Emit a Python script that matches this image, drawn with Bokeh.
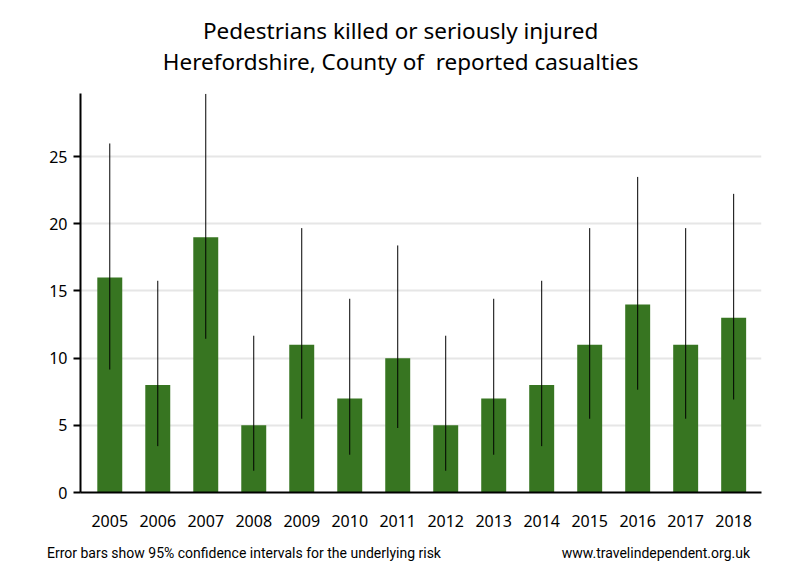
from bokeh.plotting import figure
from bokeh.models import Range1d, FixedTicker, LinearAxis, ColumnDataSource
from bokeh.embed import file_html
from bokeh.resources import INLINE

years = ["2005", "2006", "2007", "2008", "2009", "2010", "2011",
         "2012", "2013", "2014", "2015", "2016", "2017", "2018"]
casualties = [16, 8, 19, 5, 11, 7, 10, 5, 7, 8, 11, 14, 11, 13]
ci_low = [9.15, 3.45, 11.44, 1.62, 5.49, 2.81, 4.80, 1.62, 2.81, 3.45, 5.49, 7.65, 5.49, 6.92]
ci_high = [25.98, 15.76, 29.67, 11.67, 19.68, 14.42, 18.39, 11.67, 14.42, 15.76, 19.68, 23.49, 19.68, 22.23]
y_ticks = [0, 5, 10, 15, 20, 25]

title1 = "Pedestrians killed or seriously injured"
title2 = "Herefordshire, County of\u00a0 reported casualties"
footer_left = "Error bars show 95% confidence intervals for the underlying risk"
footer_right = "www.travelindependent.org.uk"
footer_pos = [2.796, 11.38]
title_pos = 6.06

xs = list(range(len(years)))
src = ColumnDataSource(dict(x=xs, top=casualties, lo=ci_low, hi=ci_high))

FONT = "Noto Sans"

p = figure(width=800, height=580, output_backend="svg", toolbar_location=None,
           x_range=Range1d(-0.61, 13.58), y_range=Range1d(0, 29.7),
           min_border_left=80, min_border_right=39, min_border_top=93, min_border_bottom=88,
           title=None)
p.outline_line_color = None
p.background_fill_color = "white"
p.border_fill_color = "white"

p.vbar(x="x", top="top", width=0.52, bottom=0, source=src,
       fill_color="#377521", line_color=None)
p.segment(x0="x", y0="lo", x1="x", y1="hi", source=src, line_color="black", line_width=1)

p.xgrid.grid_line_color = None
p.ygrid.grid_line_color = "#e6e6e6"
p.ygrid.grid_line_width = 2
p.ygrid.ticker = FixedTicker(ticks=y_ticks)

p.yaxis.ticker = FixedTicker(ticks=y_ticks)
p.yaxis.axis_line_width = 2
p.yaxis.axis_line_color = "black"
p.yaxis.major_tick_out = 7
p.yaxis.major_tick_in = 0
p.yaxis.major_tick_line_width = 2
p.yaxis.minor_tick_line_color = None
p.yaxis.major_label_text_font = FONT
p.yaxis.major_label_text_font_size = "16px"
p.yaxis.major_label_text_color = "black"
p.yaxis.major_label_standoff = 6

p.xaxis.ticker = FixedTicker(ticks=xs)
p.xaxis.major_label_overrides = {i: y for i, y in enumerate(years)}
p.xaxis.axis_line_width = 2
p.xaxis.axis_line_color = "black"
p.xaxis.major_tick_out = 0
p.xaxis.major_tick_in = 0
p.xaxis.minor_tick_line_color = None
p.xaxis.major_label_text_font = FONT
p.xaxis.major_label_text_font_size = "16px"
p.xaxis.major_label_text_color = "black"
p.xaxis.major_label_standoff = 22


def text_axis(ticks, labels, font, size, standoff):
    ax = LinearAxis(ticker=FixedTicker(ticks=ticks),
                    major_label_overrides=dict(zip(ticks, labels)))
    ax.axis_line_color = None
    ax.major_tick_line_color = None
    ax.minor_tick_line_color = None
    ax.major_tick_out = 0
    ax.major_tick_in = 0
    ax.major_label_text_font = font
    ax.major_label_text_font_size = size
    ax.major_label_text_color = "black"
    ax.major_label_standoff = standoff
    return ax


# footer notes, as an unlined axis below the year axis
p.add_layout(text_axis(footer_pos, [footer_left, footer_right], "Roboto", "14px", 15), "below")

# two-line heading, as unlined axes above the frame (inner line first)
p.add_layout(text_axis([title_pos], [title2], FONT, "22.5px", 17), "above")
p.add_layout(text_axis([title_pos], [title1], FONT, "22.5px", -3), "above")

open("out.html", "w").write(file_html(p, INLINE))
